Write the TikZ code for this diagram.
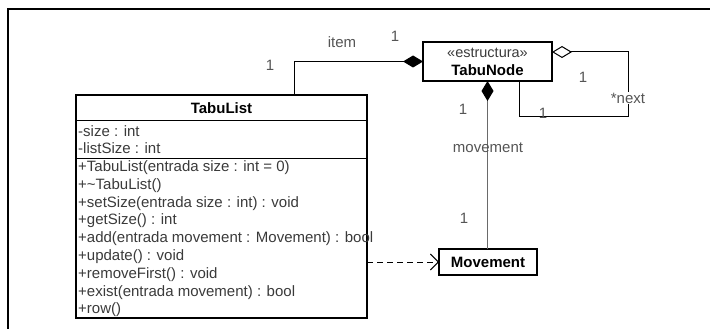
\documentclass[tikz,border=0pt]{standalone}
\usepackage{fontspec}
\setmainfont{Liberation Sans}
\usetikzlibrary{arrows.meta}
\definecolor{txt}{HTML}{3a3a3a}
\definecolor{lbl}{HTML}{555555}
\definecolor{conn}{HTML}{6a6a6a}
\begin{document}
\begin{tikzpicture}[x=1pt,y=-1pt,
  box/.style={draw=black, line width=1.1pt, inner sep=0pt, outer sep=0pt, anchor=north west},
  sepline/.style={draw=black, line width=1.1pt},
  txtline/.style={anchor=base west, inner sep=0pt, text=txt, font=\fontsize{15}{18}\selectfont},
  hdr/.style={inner sep=0pt, text=black, font=\fontsize{15}{18}\selectfont\bfseries},
  stereo/.style={inner sep=0pt, text=txt, font=\fontsize{14.5}{18}\selectfont},
  lbl/.style={inner sep=0pt, text=lbl, font=\fontsize{15}{18}\selectfont},
  assoc/.style={draw=black, line width=1pt},
  frameline/.style={draw=black, line width=1.2pt}]
\useasboundingbox (0,0) rectangle (710,329);
% frame
\draw[frameline] (8,329) -- (8,9) -- (710,9);

% TabuList class
\node[box, minimum width=291pt, minimum height=223pt] (tl) at (76,95) {};
\draw[sepline] (76,120.5) -- (367,120.5);
\draw[sepline] (76,158.5) -- (367,158.5);
\node[hdr] (tlh) at (221.5,108) {TabuList};
\node[txtline] (a1) at (78,136.4) {-size : int};
\node[txtline] (a2) at (78,153.2) {-listSize : int};
\node[txtline] (m1) at (78,171.4) {+TabuList(entrada size : int = 0)};
\node[txtline] (m2) at (78,189.2) {+\textasciitilde TabuList()};
\node[txtline] (m3) at (78,207) {+setSize(entrada size : int) : void};
\node[txtline] (m4) at (78,224.8) {+getSize() : int};
\node[txtline] (m5) at (78,242.6) {+add(entrada movement : Movement) : bool};
\node[txtline] (m6) at (78,260.4) {+update() : void};
\node[txtline] (m7) at (78,278.2) {+removeFirst() : void};
\node[txtline] (m8) at (78,296) {+exist(entrada movement) : bool};
\node[txtline] (m9) at (78,313.8) {+row()};

% TabuNode class
\node[box, minimum width=129pt, minimum height=39pt] (tn) at (423,42) {};
\node[stereo] (tns) at (487.5,53) {«estructura»};
\node[hdr] (tnh) at (487.5,70) {TabuNode};

% Movement class
\node[box, minimum width=98pt, minimum height=26pt] (mv) at (439,249) {};
\node[hdr] (mvh) at (488,262) {Movement};

% item composition
\coordinate (ibend) at (294,61.5);
\draw[assoc, {Diamond[length=20pt, width=12pt, fill=black]}-] (tn.west) -- (ibend) -- (ibend |- tl.north);
\node[lbl] (litem) at (342,42) {item};
\node[lbl] (li1) at (395,36) {1};
\node[lbl] (li2) at (270,65) {1};

% movement composition
\draw[assoc, draw=conn, {Diamond[length=20pt, width=12pt, fill=black, color=black]}-] (tn.south) -- (tn.south |- mv.north);
\node[lbl] (lm1) at (463,109) {1};
\node[lbl] (lmv) at (488,148) {movement};
\node[lbl] (lm2) at (464,218) {1};

% next self-aggregation
\coordinate (ns) at (552,52);
\coordinate (n1) at (628,52);
\coordinate (n2) at (628,116);
\coordinate (n3) at (519,116);
\coordinate (ne) at (519,81);
\draw[assoc, {Diamond[open, length=20pt, width=12pt, fill=white]}-] (ns) -- (n1) -- (n2) -- (n3) -- (ne);
\node[lbl] (ln1) at (583,77) {1};
\node[lbl, fill=white, inner sep=1pt] (lnext) at (628,98) {*next};
\node[lbl] (ln2) at (543,113) {1};

% dependency
\draw[assoc, line width=0.9pt, dash pattern=on 6pt off 4pt, -{Straight Barb[length=8pt, width=16pt]}] (tl.east |- mv.west) -- (mv.west);
\end{tikzpicture}
\end{document}
